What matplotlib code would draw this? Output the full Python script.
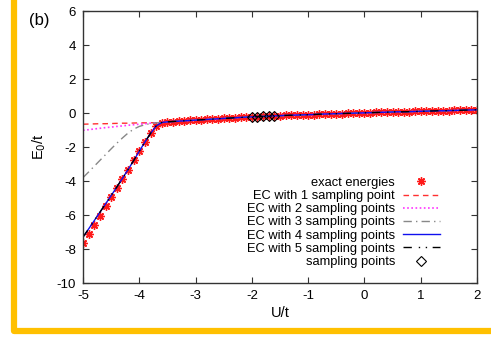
import numpy as np
import matplotlib
matplotlib.use("Agg")
import matplotlib.pyplot as plt

# U/t grid (step 0.1) and exact ground state energies E0/t
u = np.round(np.arange(-50, 21) / 10, 1)
exact = [-7.65, -7.11, -6.57, -6.03, -5.49, -4.95, -4.41, -3.87, -3.33, -2.79,
         -2.25, -1.71, -1.20, -0.76, -0.56, -0.52, -0.50, -0.48, -0.46, -0.44,
         -0.42, -0.40, -0.38, -0.36, -0.34, -0.32, -0.30, -0.28, -0.26, -0.24,
         -0.23, -0.21, -0.20, -0.18, -0.17, -0.16, -0.14, -0.13, -0.12, -0.11,
         -0.10, -0.09, -0.07, -0.06, -0.05, -0.04, -0.03, -0.02, -0.01, 0.00,
         0.01, 0.02, 0.03, 0.04, 0.05, 0.06, 0.07, 0.07, 0.08, 0.09,
         0.10, 0.11, 0.12, 0.13, 0.13, 0.14, 0.15, 0.16, 0.17, 0.18, 0.19]

# EC curves differ from exact only for U/t in [-5.0, -3.7]; beyond they coincide
ec1_left = [-0.66, -0.65, -0.64, -0.63, -0.63, -0.62, -0.61, -0.60, -0.60, -0.59,
            -0.58, -0.58, -0.57, -0.57]
ec2_left = [-1.02, -0.98, -0.94, -0.90, -0.86, -0.83, -0.79, -0.76, -0.72, -0.69,
            -0.66, -0.63, -0.60, -0.58]
ec3_left = [-3.80, -3.47, -3.13, -2.79, -2.45, -2.11, -1.78, -1.47, -1.18, -0.95,
            -0.79, -0.69, -0.62, -0.58]
ec4_left = [-7.30, -6.82, -6.33, -5.84, -5.35, -4.86, -4.36, -3.85, -3.33, -2.80,
            -2.25, -1.71, -1.20, -0.76]
ec5_left = [-7.30, -6.82, -6.33, -5.84, -5.35, -4.86, -4.36, -3.85, -3.33, -2.80,
            -2.25, -1.71, -1.20, -0.76]

sample_u = [-2.0, -1.9, -1.8, -1.7, -1.6]
sample_e = [-0.23, -0.21, -0.20, -0.18, -0.17]

n_left = len(ec1_left)
tail = exact[n_left:]

plt.rcParams['font.family'] = ['Liberation Sans', 'DejaVu Sans']
plt.rcParams['axes.unicode_minus'] = False

fig = plt.figure(figsize=(4.91, 3.37), dpi=100)
ax = fig.add_axes([83 / 491, 1 - 283 / 337, 394 / 491, 272 / 337])

ax.plot(u, exact, linestyle='none', marker=(8, 2, 0), markersize=6,
        color='#ff1a1a', mew=1.0, label='exact energies')
ax.plot(u, ec1_left + tail, color='#ff3030', lw=1.0, dashes=(4, 3),
        label='EC with 1 sampling point')
ax.plot(u, ec2_left + tail, color='#ff33ff', lw=1.2, dashes=(1, 1.5),
        label='EC with 2 sampling points')
ax.plot(u, ec3_left + tail, color='#888888', lw=1.0, dashes=(6, 3, 1, 3),
        label='EC with 3 sampling points')
ax.plot(u, ec4_left + tail, color='#1010ee', lw=1.0,
        label='EC with 4 sampling points')
ax.plot(u, ec5_left + tail, color='black', lw=1.0, dashes=(6, 5, 1, 4, 1, 4),
        label='EC with 5 sampling points')
ax.plot(sample_u, sample_e, linestyle='none', marker='D', markersize=5,
        mfc='none', mec='black', mew=0.8, label='sampling points')

ax.set_xlim(-5, 2)
ax.set_ylim(-10, 6)
ax.set_xticks(range(-5, 3))
ax.set_yticks(range(-10, 7, 2))
ax.tick_params(direction='in', length=4, width=0.8, labelsize=9.5,
               top=True, right=True, colors='#333333', labelcolor='black', pad=5)
for s in ax.spines.values():
    s.set_color('#333333')
    s.set_linewidth(1.0)

ax.set_xlabel('U/t', fontsize=10.5, labelpad=3)
ax.set_ylabel('E$_0$/t', fontsize=10.5, labelpad=6)

leg = ax.legend(loc='lower right', bbox_to_anchor=(0.923, 0.031), frameon=False,
                markerfirst=False, fontsize=9.3, labelspacing=0.09,
                handlelength=2.9, handletextpad=0.6, borderpad=0)
for t in leg.get_texts():
    t.set_ha('right')

fig.text(29 / 491, 1 - 20 / 337, '(b)', fontsize=12, va='center', ha='left')

# yellow frame on the left and bottom
fig.add_artist(plt.Line2D([14 / 491, 14 / 491, 1.02], [1.02, 1 - 331 / 337, 1 - 331 / 337],
                          color='#ffc000', lw=4.5, solid_joinstyle='round',
                          transform=fig.transFigure))

fig.savefig('out.png', dpi=100)
